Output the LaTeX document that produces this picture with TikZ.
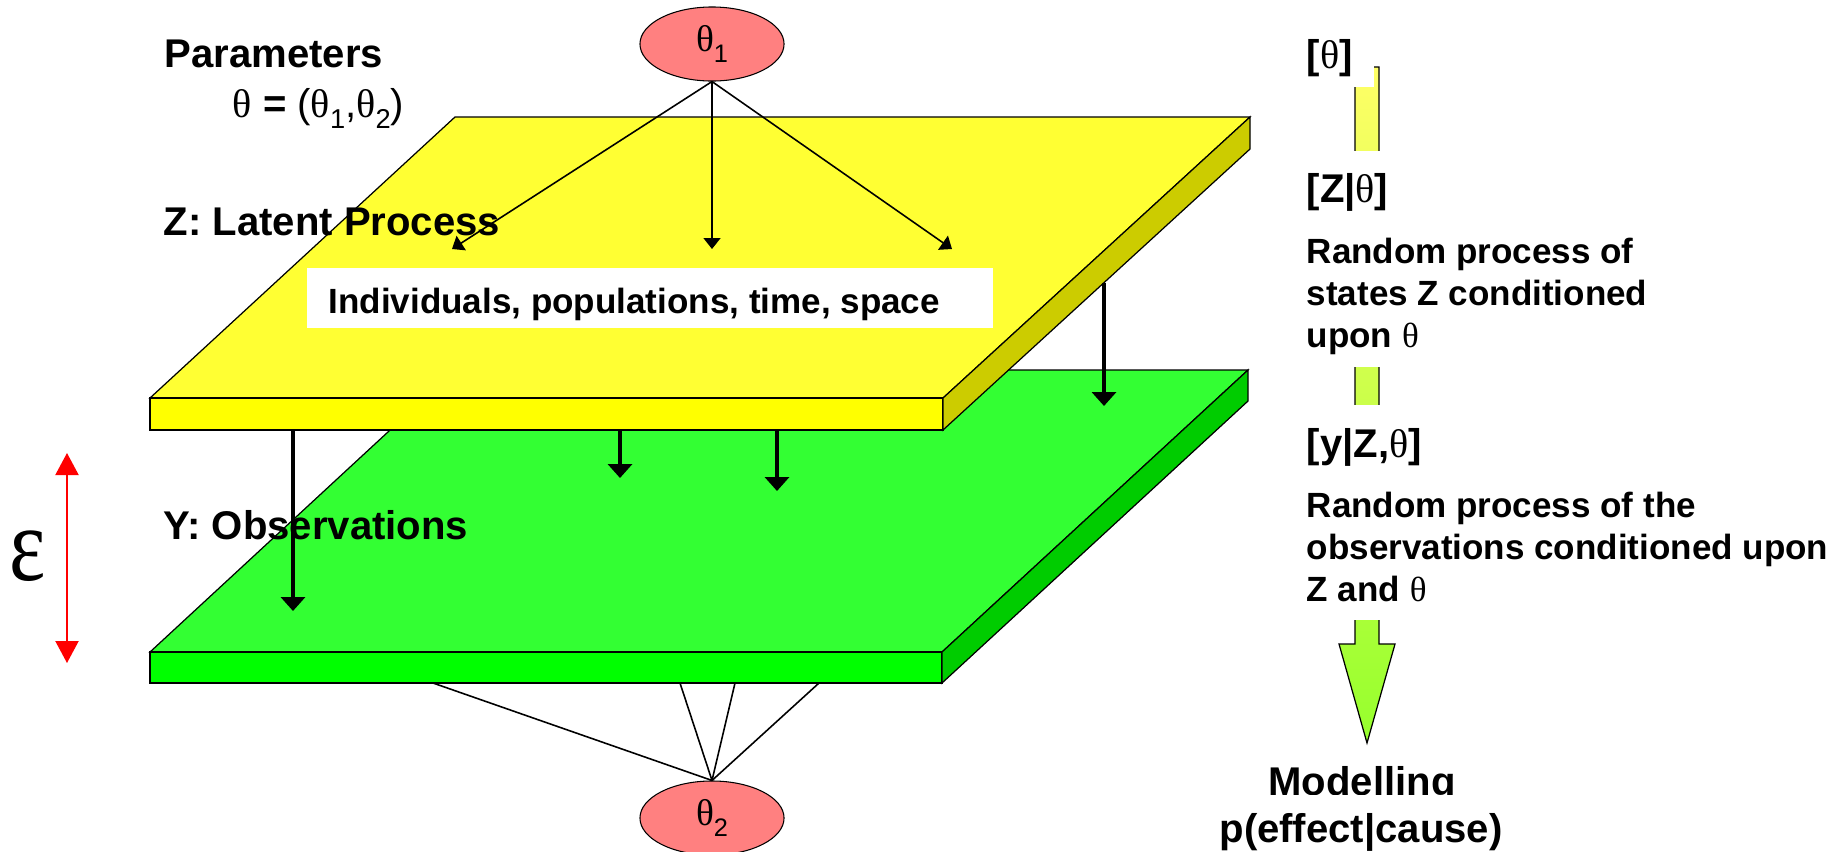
\documentclass[tikz,border=0pt]{standalone}
\usepackage{fontspec}
\setmainfont{Liberation Sans}
\newfontfamily\grkfont{Liberation Serif}
\usepackage{graphicx}
\usetikzlibrary{arrows.meta,shapes.geometric,positioning}

\definecolor{ztop}{RGB}{255,255,51}
\definecolor{zfront}{RGB}{255,255,0}
\definecolor{zside}{RGB}{204,204,0}
\definecolor{ytop}{RGB}{51,255,51}
\definecolor{yfront}{RGB}{0,255,0}
\definecolor{yside}{RGB}{0,204,0}
\definecolor{parfill}{RGB}{255,128,128}
\definecolor{arrowtop}{RGB}{255,255,102}
\definecolor{arrowbot}{RGB}{150,255,45}

\newcommand{\tht}{{\grkfont\mdseries θ}}
\newcommand{\lowsub}[1]{\raisebox{-0.28em}{\scalebox{0.68}{\mdseries #1}}}

\begin{document}
\begin{tikzpicture}[x=0.01cm, y=-0.01cm,
    layer/.style={font=\fontsize{11.4}{13.7}\selectfont\bfseries, anchor=base west, inner sep=0},
    note/.style={font=\fontsize{9.96}{11.95}\selectfont\bfseries, anchor=base west, inner sep=0},
    param/.style={ellipse, draw, line width=0.3pt, fill=parfill, minimum width=1.44cm,
      minimum height=0.74cm, inner sep=0, font=\fontsize{10.6}{12}\selectfont},
    slab/.style={draw, line width=0.35pt},
    spread/.style={-{Triangle[width=0.17cm,length=0.11cm]}, line width=0.45pt},
    drop/.style={-{Triangle[width=0.24cm,length=0.14cm]}, line width=1.1pt}
    ]
    \useasboundingbox (0,0) rectangle (1840,851);

    % observations plate
    \path[slab, fill=ytop] (150,652) -- (455,370) -- (1248,370) -- (942,652) -- cycle;
    \path[slab, fill=yfront] (150,652) rectangle (942,683);
    \path[slab, fill=yside] (942,652) -- (1248,370) -- (1248,401) -- (942,683) -- cycle;

    % latent plate
    \path[slab, fill=ztop] (150,398) -- (455,117) -- (1250,117) -- (943,398) -- cycle;
    \path[slab, fill=zfront] (150,398) rectangle (943,430);
    \path[slab, fill=zside] (943,398) -- (1250,117) -- (1250,149) -- (943,430) -- cycle;

    \node[fill=white, minimum width=6.86cm, minimum height=0.6cm, inner sep=0] (popbox) at (650,298) {};
    \node[note] (poptext) at (328,313) {Individuals, populations, time, space};

    \node[layer] (partitle) at (164,67) {Parameters};
    \node[layer, font=\fontsize{11.4}{13.7}\selectfont\mdseries] (pardef) at (232,117)
      {\tht{} \textbf{=} (\tht\lowsub{1},\tht\lowsub{2})};
    \node[layer] (zlabel) at (163,235) {Z: Latent Process};
    \node[layer] (ylabel) at (163,539) {Y: Observations};

    \node[param] (t1) at (712,44) {\tht\lowsub{1}};
    \node[param] (t2) at (712,818) {\tht\lowsub{2}};

    % links between the plates
    \coordinate (za) at (293,430);  \coordinate (ya) at (293,611);
    \coordinate (zb) at (620,430);  \coordinate (yb) at (620,478);
    \coordinate (zc) at (777,430);  \coordinate (yc) at (777,491);
    \coordinate (zd) at (1104,283); \coordinate (yd) at (1104,406);
    \draw[drop] (za) -- (ya);
    \draw[drop] (zb) -- (yb);
    \draw[drop] (zc) -- (yc);
    \draw[drop] (zd) -- (yd);

    \coordinate (pa) at (452,249);
    \coordinate (pb) at (712,249);
    \coordinate (pc) at (952,249);
    \draw[spread] (t1.south) -- (pa);
    \draw[spread] (t1.south) -- (pb);
    \draw[spread] (t1.south) -- (pc);

    \coordinate (qa) at (433,683);
    \coordinate (qb) at (680,683);
    \coordinate (qc) at (735,683);
    \coordinate (qd) at (819,683);
    \draw[line width=0.45pt] (t2.north) -- (qa);
    \draw[line width=0.45pt] (t2.north) -- (qb);
    \draw[line width=0.45pt] (t2.north) -- (qc);
    \draw[line width=0.45pt] (t2.north) -- (qd);

    % error between the plates
    \coordinate (ea) at (67,453);
    \coordinate (eb) at (67,663);
    \draw[red, line width=0.6pt, {Triangle[width=0.23cm,length=0.22cm]}-{Triangle[width=0.23cm,length=0.22cm]}] (ea) -- (eb);
    \node[inner sep=0, font=\grkfont\fontsize{30}{34}\selectfont] (eps) at (28,556) {\scalebox{0.82}[1]{ε}};

    % hierarchy column
    \path[draw, line width=0.35pt, top color=arrowtop, bottom color=arrowbot]
      (1355,67) -- (1379,67) -- (1379,644) -- (1395,644) -- (1367,743) -- (1339,644) -- (1355,644) -- cycle;
    \fill[white] (1295,20) rectangle (1374,87);
    \fill[white] (1295,151) rectangle (1420,367);
    \fill[white] (1295,405) rectangle (1420,620);

    \node[layer] (thz) at (1306,68) {[\tht]};
    \node[layer] (zgt) at (1306,202) {[Z|\tht]};
    \node[note] (zd1) at (1306,263) {Random process of};
    \node[note] (zd2) at (1306,305) {states Z conditioned};
    \node[note] (zd3) at (1306,347) {upon \tht};
    \node[layer] (ygz) at (1306,457) {[y|Z,\tht]};
    \node[note] (yd1) at (1306,517) {Random process of the};
    \node[note] (yd2) at (1306,559) {observations conditioned upon};
    \node[note] (yd3) at (1306,601) {Z and \tht};

    \node[layer, anchor=base] (model) at (1362,795) {Modelling};
    \node[layer, anchor=base, fill=white, text height=0.47cm] (effect) at (1361,842) {p(effect|cause)};
  \end{tikzpicture}
\end{document}
